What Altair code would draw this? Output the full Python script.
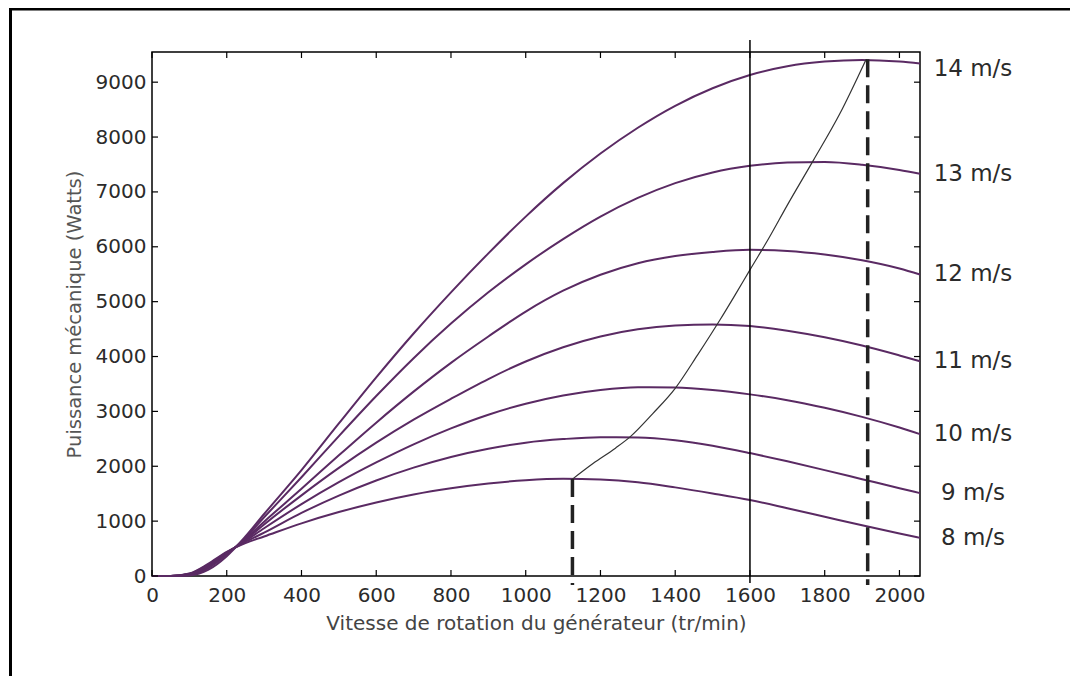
import altair as alt
import pandas as pd

# rotation speed samples (tr/min)
rpm = [0, 50, 100, 150, 200, 250, 300, 400, 500, 600, 700, 800, 900, 1000,
       1100, 1200, 1300, 1400, 1500, 1600, 1700, 1800, 1900, 2000, 2055]

# mechanical power (W) for each wind speed
p8 = [0, 0, 45, 220, 440, 600, 720, 960, 1165, 1340, 1485, 1598, 1685, 1745,
      1772, 1760, 1710, 1615, 1505, 1385, 1235, 1080, 925, 775, 695]
p9 = [0, 0, 40, 205, 430, 620, 790, 1150, 1465, 1740, 1975, 2170, 2320, 2430,
      2495, 2530, 2525, 2475, 2375, 2240, 2090, 1930, 1765, 1600, 1510]
p10 = [0, 0, 35, 190, 420, 640, 870, 1310, 1710, 2070, 2400, 2690, 2940, 3140,
       3290, 3390, 3440, 3435, 3390, 3310, 3205, 3065, 2900, 2705, 2585]
p11 = [0, 0, 30, 175, 410, 660, 940, 1470, 1970, 2430, 2850, 3230, 3590, 3910,
       4170, 4365, 4495, 4565, 4585, 4555, 4470, 4350, 4200, 4020, 3915]
p12 = [0, 0, 25, 160, 400, 680, 990, 1590, 2200, 2795, 3360, 3885, 4365, 4820,
       5200, 5490, 5700, 5830, 5905, 5945, 5925, 5860, 5755, 5605, 5495]
p13 = [0, 0, 20, 140, 390, 700, 1070, 1800, 2550, 3280, 3970, 4600, 5170, 5680,
       6140, 6550, 6890, 7160, 7355, 7475, 7535, 7545, 7495, 7400, 7330]
p14 = [0, 0, 10, 110, 360, 720, 1130, 1930, 2780, 3620, 4420, 5170, 5880, 6550,
       7160, 7700, 8170, 8570, 8890, 9130, 9290, 9375, 9405, 9375, 9340]

wind_labels = ["8 m/s", "9 m/s", "10 m/s", "11 m/s", "12 m/s", "13 m/s", "14 m/s"]
series = [p8, p9, p10, p11, p12, p13, p14]

# maximum power point tracking path
mppt_rpm = [1125, 1180, 1240, 1280, 1340, 1400, 1460, 1520, 1560, 1600, 1650,
            1700, 1770, 1840, 1911]
mppt_p = [1766, 2050, 2330, 2540, 2960, 3420, 4030, 4670, 5120, 5580, 6150,
          6760, 7580, 8420, 9420]

# dashed limits (rpm, power at top) and solid nominal speed line
dash_rpm = [1125, 1915]
dash_p = [1766, 9420]
nominal_rpm = [1600]

x_ticks = [0, 200, 400, 600, 800, 1000, 1200, 1400, 1600, 1800, 2000]
y_ticks = [0, 1000, 2000, 3000, 4000, 5000, 6000, 7000, 8000, 9000]

W, H = 768, 524
PURPLE = "#5a2a63"
FONT = "DejaVu Sans"

rows = []
for lab, vals in zip(wind_labels, series):
    for r, p in zip(rpm, vals):
        rows.append({"rpm": r, "P": p, "wind": lab})
curves_df = pd.DataFrame(rows)
labels_df = pd.DataFrame({"wind": wind_labels, "rpm": [rpm[-1]] * 7,
                          "P": [s[-1] for s in series]})
mppt_df = pd.DataFrame({"rpm": mppt_rpm, "P": mppt_p})
dash_df = pd.DataFrame({"rpm": dash_rpm, "P": dash_p})
nom_df = pd.DataFrame({"rpm": nominal_rpm})
xt_df = pd.DataFrame({"rpm": x_ticks})
yt_df = pd.DataFrame({"P": y_ticks})

xs = alt.Scale(domain=[0, 2055], nice=False, zero=False)
ys = alt.Scale(domain=[0, 9550], nice=False, zero=False)
xaxis = alt.Axis(values=x_ticks, ticks=False, domain=False, grid=False,
                 labelFontSize=20, labelColor="#2b2b2b", labelPadding=9,
                 labelFont=FONT, titleFont=FONT, titleFontSize=20,
                 titleFontWeight="normal", titleColor="#444", titlePadding=8,
                 format="d", labelFlush=False)
yaxis = alt.Axis(values=y_ticks, ticks=False, domain=False, grid=False,
                 labelFontSize=20, labelColor="#2b2b2b", labelPadding=6,
                 labelFont=FONT, titleFont=FONT, titleFontSize=19.5,
                 titleFontWeight="normal", titleColor="#555", titlePadding=11,
                 format="d", labelFlush=False)
XT = "Vitesse de rotation du générateur (tr/min)"
YT = "Puissance mécanique (Watts)"


def X(field="rpm"):
    return alt.X(f"{field}:Q", scale=xs, axis=xaxis, title=XT)


def Y(field="P"):
    return alt.Y(f"{field}:Q", scale=ys, axis=yaxis, title=YT)


curves = alt.Chart(curves_df).mark_line(
    interpolate="monotone", strokeWidth=2, color=PURPLE
).encode(x=X(), y=Y(), detail="wind:N")

mppt = alt.Chart(mppt_df).mark_line(
    interpolate="monotone", strokeWidth=1.2, color="#333"
).encode(x=X(), y=Y())

dashes = alt.Chart(dash_df).mark_rule(
    strokeWidth=3.5, color="#222", strokeDash=[18, 8], clip=False
).encode(x=X(), y=Y(), y2=alt.value(H + 9))

nominal = alt.Chart(nom_df).mark_rule(
    strokeWidth=1.5, color="black", clip=False
).encode(x=X(), y=alt.value(-12), y2=alt.value(H + 7))

tick_b = alt.Chart(xt_df).mark_rule(color="black", strokeWidth=1.2).encode(
    x=X(), y=alt.value(H), y2=alt.value(H - 6))
tick_t = alt.Chart(xt_df).mark_rule(color="black", strokeWidth=1.2).encode(
    x=X(), y=alt.value(0), y2=alt.value(6))
tick_l = alt.Chart(yt_df).mark_rule(color="black", strokeWidth=1.2).encode(
    y=Y(), x=alt.value(0), x2=alt.value(6))
tick_r = alt.Chart(yt_df).mark_rule(color="black", strokeWidth=1.2).encode(
    y=Y(), x=alt.value(W), x2=alt.value(W - 6))

lab_main = alt.Chart(labels_df).transform_filter(
    alt.datum.wind != "14 m/s"
).mark_text(dx=53, align="center", baseline="middle", fontSize=23,
            font=FONT, color="#2b2b2b", clip=False).encode(
    x=X(), y=Y(), text="wind:N")
lab_top = alt.Chart(labels_df).transform_filter(
    alt.datum.wind == "14 m/s"
).mark_text(dx=53, dy=5, align="center", baseline="middle", fontSize=23,
            font=FONT, color="#2b2b2b", clip=False).encode(
    x=X(), y=Y(), text="wind:N")

frame_l = alt.Chart(nom_df).mark_rule(color="black", strokeWidth=3, clip=False).encode(
    x=alt.value(-141.5), y=alt.value(-44.5), y2=alt.value(H + 120))
frame_t = alt.Chart(nom_df).mark_rule(color="black", strokeWidth=3, clip=False).encode(
    x=alt.value(-143), x2=alt.value(W + 150), y=alt.value(-43))

chart = alt.layer(
    curves, mppt, dashes, nominal, tick_b, tick_t, tick_l, tick_r,
    lab_main, lab_top, frame_l, frame_t
).properties(
    width=W, height=H,
    autosize=alt.AutoSizeParams(type="none"),
    padding={"left": 144, "top": 44, "right": 150, "bottom": 100},
    background="white",
).configure(font=FONT).configure_view(stroke="black", strokeWidth=1.5)

chart.save("out.html", embed_options={"renderer": "svg", "actions": False})
